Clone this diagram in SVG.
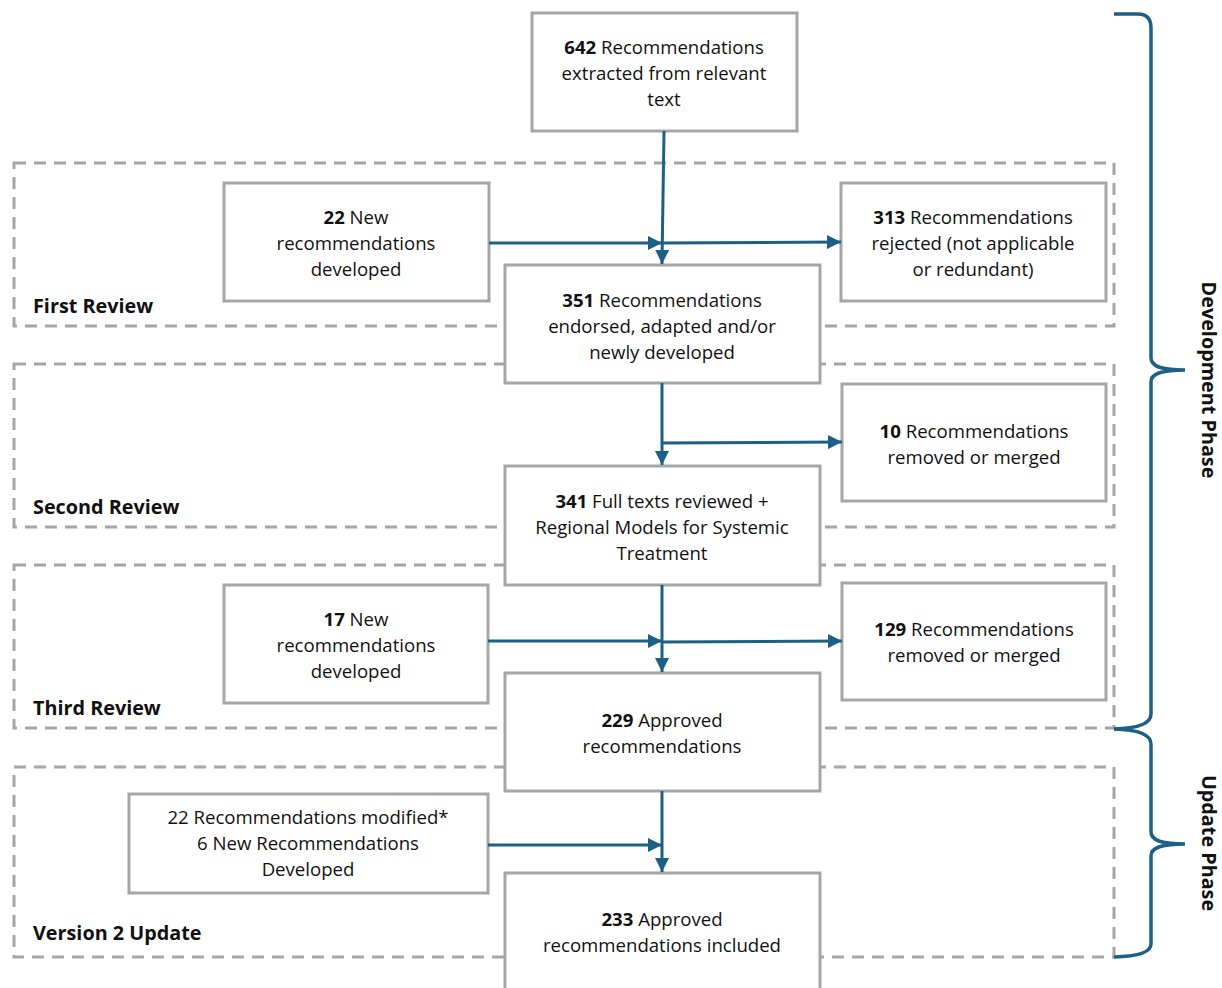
<svg xmlns="http://www.w3.org/2000/svg" width="1222" height="988" viewBox="0 0 1222 988">
<defs>
<marker id="ah" viewBox="0 0 14 14" refX="14" refY="7" markerWidth="14" markerHeight="14" markerUnits="userSpaceOnUse" orient="auto">
<path d="M0,0 L14,7 L0,14 Z" fill="#1c6185"/>
</marker>
<style>
.box{fill:#fff;stroke:#a6a6a6;stroke-width:3}
.zone{fill:none;stroke:#a6a6a6;stroke-width:3;stroke-dasharray:12 8}
.t{font-family:"Open Sans","Noto Sans",sans-serif;font-size:18.6px;fill:#111;text-anchor:middle}
.b{font-weight:bold}
.lab{font-family:"Open Sans","Noto Sans",sans-serif;font-size:19.8px;font-weight:bold;fill:#111}
.con{fill:none;stroke:#1c6185;stroke-width:3}
.brace{fill:none;stroke:#1c6185;stroke-width:3.5}
</style>
</defs>
<rect width="1222" height="988" fill="#fff"/>
<g id="zones">
<rect class="zone" x="14" y="163" width="1100" height="163"/>
<rect class="zone" x="14" y="364" width="1100" height="163"/>
<rect class="zone" x="14" y="565" width="1100" height="163"/>
<rect class="zone" x="14" y="767" width="1100" height="190"/>
<text class="lab" x="33" y="313">First Review</text>
<text class="lab" x="33" y="514">Second Review</text>
<text class="lab" x="33" y="715">Third Review</text>
<text class="lab" x="33" y="940">Version 2 Update</text>
</g>
<g id="n642">
<rect class="box" x="532" y="13" width="265" height="118"/>
<text class="t" x="664" y="54"><tspan class="b">642</tspan> Recommendations</text>
<text class="t" x="664" y="80">extracted from relevant</text>
<text class="t" x="664" y="106">text</text>
</g>
<g id="n22">
<rect class="box" x="224" y="183" width="265" height="118"/>
<text class="t" x="356" y="224"><tspan class="b">22</tspan> New</text>
<text class="t" x="356" y="250">recommendations</text>
<text class="t" x="356" y="276">developed</text>
</g>
<g id="n313">
<rect class="box" x="841" y="183" width="265" height="118"/>
<text class="t" x="973" y="224"><tspan class="b">313</tspan> Recommendations</text>
<text class="t" x="973" y="250">rejected (not applicable</text>
<text class="t" x="973" y="276">or redundant)</text>
</g>
<g id="n351">
<rect class="box" x="505" y="265" width="315" height="118"/>
<text class="t" x="662" y="307"><tspan class="b">351</tspan> Recommendations</text>
<text class="t" x="662" y="333">endorsed, adapted and/or</text>
<text class="t" x="662" y="359">newly developed</text>
</g>
<g id="n10">
<rect class="box" x="842" y="384" width="264" height="117"/>
<text class="t" x="974" y="438"><tspan class="b">10</tspan> Recommendations</text>
<text class="t" x="974" y="464">removed or merged</text>
</g>
<g id="n341">
<rect class="box" x="505" y="466" width="315" height="119"/>
<text class="t" x="662" y="508"><tspan class="b">341</tspan> Full texts reviewed +</text>
<text class="t" x="662" y="534">Regional Models for Systemic</text>
<text class="t" x="662" y="560">Treatment</text>
</g>
<g id="n17">
<rect class="box" x="224" y="585" width="264" height="118"/>
<text class="t" x="356" y="626"><tspan class="b">17</tspan> New</text>
<text class="t" x="356" y="652">recommendations</text>
<text class="t" x="356" y="678">developed</text>
</g>
<g id="n129">
<rect class="box" x="842" y="583" width="264" height="117"/>
<text class="t" x="974" y="636"><tspan class="b">129</tspan> Recommendations</text>
<text class="t" x="974" y="662">removed or merged</text>
</g>
<g id="n229">
<rect class="box" x="505" y="673" width="315" height="118"/>
<text class="t" x="662" y="727"><tspan class="b">229</tspan> Approved</text>
<text class="t" x="662" y="753">recommendations</text>
</g>
<g id="n22m">
<rect class="box" x="129" y="794" width="359" height="99"/>
<text class="t" x="308" y="824">22 Recommendations modified*</text>
<text class="t" x="308" y="850">6 New Recommendations</text>
<text class="t" x="308" y="876">Developed</text>
</g>
<g id="n233">
<rect class="box" x="505" y="873" width="315" height="130"/>
<text class="t" x="662" y="926"><tspan class="b">233</tspan> Approved</text>
<text class="t" x="662" y="952">recommendations included</text>
</g>
<g id="connectors">
<path class="con" d="M664,131 L662,264" marker-end="url(#ah)"/>
<path class="con" d="M489,243 L662,243" marker-end="url(#ah)"/>
<path class="con" d="M662,243 L841,242" marker-end="url(#ah)"/>
<path class="con" d="M662,383 L662,465" marker-end="url(#ah)"/>
<path class="con" d="M662,443 L842,442" marker-end="url(#ah)"/>
<path class="con" d="M662,585 L662,672" marker-end="url(#ah)"/>
<path class="con" d="M488,641 L662,641" marker-end="url(#ah)"/>
<path class="con" d="M662,642 L842,641" marker-end="url(#ah)"/>
<path class="con" d="M662,791 L662,872" marker-end="url(#ah)"/>
<path class="con" d="M488,845 L662,845" marker-end="url(#ah)"/>
</g>
<g id="braces">
<path class="brace" d="M1114,14 L1138,14 Q1151,14 1151,28 L1151,358 C1151,366 1160,370 1185,370 C1160,370 1151,374 1151,382 L1151,714 Q1151,728 1114,729"/>
<path class="brace" d="M1114,729 Q1151,730 1151,744 L1151,832 C1151,840 1160,844 1185,844 C1160,844 1151,848 1151,856 L1151,944 Q1151,956 1114,957"/>
<text class="lab" x="0" y="0" text-anchor="middle" transform="translate(1202,380) rotate(90)">Development Phase</text>
<text class="lab" x="0" y="0" text-anchor="middle" transform="translate(1202,843) rotate(90)">Update Phase</text>
</g>
</svg>
